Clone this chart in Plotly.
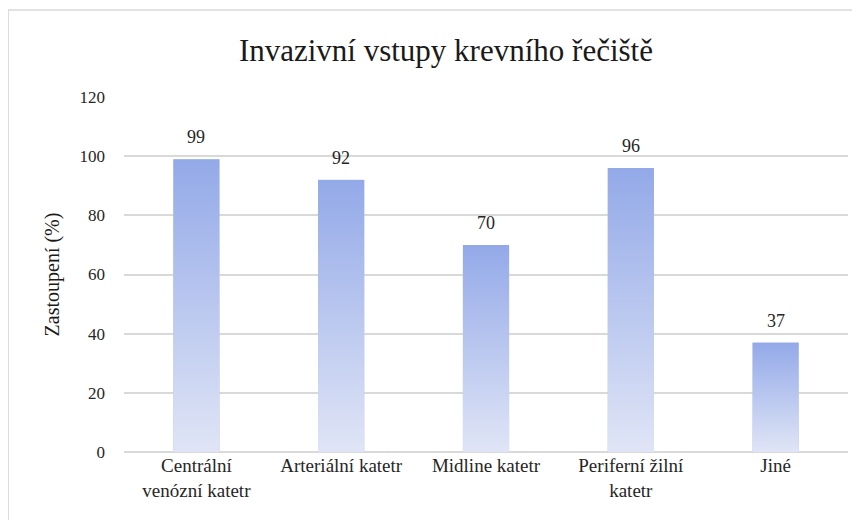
import urllib.parse
import plotly.graph_objects as go

# data
categories = [
    "Centrální<br>venózní katetr",
    "Arteriální katetr",
    "Midline katetr",
    "Periferní žilní<br>katetr",
    "Jiné",
]
values = [99, 92, 70, 96, 37]
y_ticks = [0, 20, 40, 60, 80, 100, 120]

FONT = "Liberation Serif"
BAR_W = 0.32
TOP_COL, BOTTOM_COL = "#93a9e8", "#e0e5f6"

# vertical gradient as an svg image, stretched over each bar
_svg = (
    '<svg xmlns="http://www.w3.org/2000/svg" width="10" height="10" '
    'viewBox="0 0 10 10" preserveAspectRatio="none">'
    '<defs><linearGradient id="g" x1="0" y1="0" x2="0" y2="1">'
    f'<stop offset="0" stop-color="{TOP_COL}"/>'
    f'<stop offset="1" stop-color="{BOTTOM_COL}"/>'
    '</linearGradient></defs>'
    '<rect width="10" height="10" fill="url(#g)"/></svg>'
)
GRAD_SRC = "data:image/svg+xml;charset=utf-8," + urllib.parse.quote(_svg)

fig = go.Figure(go.Bar(
    x=list(range(len(categories))),
    y=values,
    width=BAR_W,
    marker=dict(color="#bcc8ef", line=dict(width=0)),
    hoverinfo="skip",
    showlegend=False,
))

for i, v in enumerate(values):
    fig.add_layout_image(
        source=GRAD_SRC, xref="x", yref="y",
        x=i - BAR_W / 2, y=v, sizex=BAR_W, sizey=v,
        xanchor="left", yanchor="top", sizing="stretch", layer="above",
    )
    # value label above the bar
    fig.add_annotation(
        x=i, y=v, text=str(v), showarrow=False,
        yanchor="bottom", yshift=10,
        font=dict(family=FONT, size=18, color="#262626"),
    )

# light frame round the whole chart
fig.add_shape(
    type="rect", xref="paper", yref="paper",
    x0=-0.160, x1=1.03, y0=-0.25, y1=1.245,
    line=dict(color="#d9d9d9", width=1.5), layer="below",
)

fig.update_layout(
    width=852, height=512,
    margin=dict(l=116, r=12, t=89, b=68),
    font=dict(family=FONT, color="#262626"),
    paper_bgcolor="white",
    plot_bgcolor="white",
    title=dict(
        text="Invazivní vstupy krevního řečiště",
        x=0.514, xanchor="center", y=0.918, yanchor="middle",
        font=dict(family=FONT, size=31, color="#1a1a1a"),
    ),
    xaxis=dict(
        range=[-0.5, len(categories) - 0.5],
        tickvals=list(range(len(categories))),
        ticktext=categories,
        showgrid=False, zeroline=False,
        showline=False, ticks="",
        tickfont=dict(family=FONT, size=19, color="#262626"),
    ),
    yaxis=dict(
        range=[0, 120],
        tickvals=y_ticks,
        showgrid=True, gridcolor="#d9d9d9", gridwidth=1.5,
        zeroline=True, zerolinecolor="#d9d9d9", zerolinewidth=1.5,
        ticks="", ticklabelstandoff=18,
        tickfont=dict(family=FONT, size=17, color="#262626"),
        title=dict(text="Zastoupení (%)", standoff=14,
                   font=dict(family=FONT, size=20, color="#1a1a1a")),
    ),
)

fig.write_html("out.html")
